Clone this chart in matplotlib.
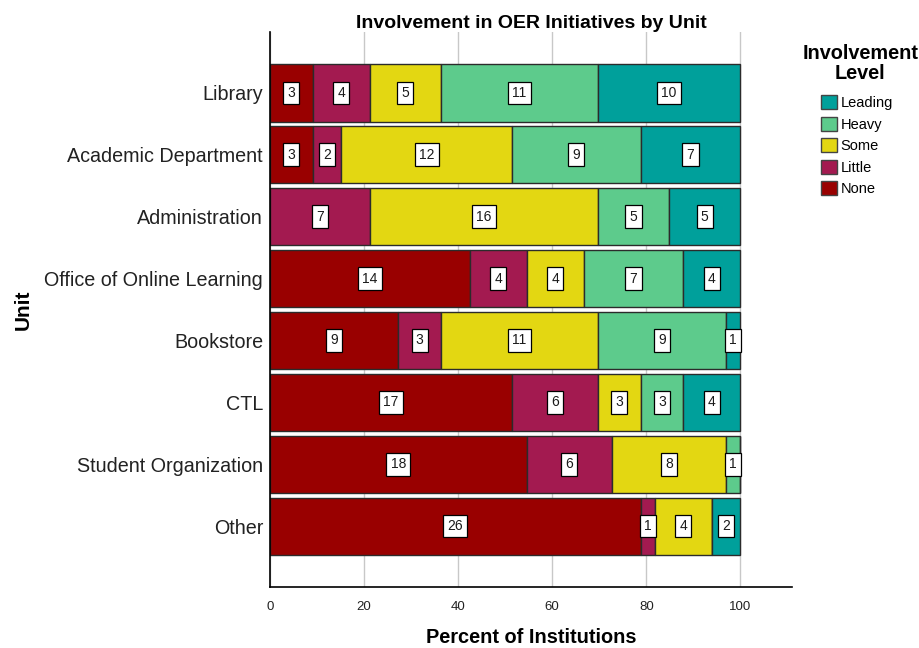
import numpy as np
import matplotlib
matplotlib.use('Agg')
import matplotlib.pyplot as plt
from matplotlib.patches import Patch

plt.rcParams['font.family']=['Liberation Sans','DejaVu Sans']

units=['Library','Academic Department','Administration','Office of Online Learning','Bookstore','CTL','Student Organization','Other']
levels=['None','Little','Some','Heavy','Leading']
none_=[3,3,0,14,9,17,18,26]
little=[4,2,7,4,3,6,6,1]
some=[5,12,16,4,11,3,8,4]
heavy=[11,9,5,7,9,3,1,0]
leading=[10,7,5,4,1,4,0,2]
colors=['#990000','#A31A50','#E3D712','#5DCB8C','#00A09B']

counts=np.array([none_,little,some,heavy,leading],dtype=float)
pct=counts/counts.sum(axis=0)*100

fig=plt.figure(figsize=(9.2,6.48),dpi=100)
ax=fig.add_axes([0.2935,0.0941,0.5675,0.8565])
y=np.arange(len(units))
left=np.zeros(len(units))
for i,lev in enumerate(levels):
	ax.barh(y,pct[i],left=left,height=0.93,color=colors[i],edgecolor='#2b2b2b',linewidth=1,zorder=2)
	for j in range(len(units)):
		if counts[i,j]>0:
			ax.text(left[j]+pct[i,j]/2,y[j],str(int(counts[i,j])),ha='center',va='center',fontsize=10,color='#1a1a1a',zorder=4,
				bbox=dict(boxstyle='square,pad=0.3',facecolor='white',edgecolor='black',linewidth=0.9))
	left+=pct[i]

ax.set_xlim(0,111)
ax.set_ylim(len(units)-1+0.98,-0.98)
ax.set_yticks(y)
ax.set_yticklabels(units,fontsize=14.2,color='#222222')
ax.set_xticks([0,20,40,60,80,100])
ax.tick_params(axis='x',labelsize=9.5,length=0,pad=10,colors='#222222')
ax.tick_params(axis='y',length=0,pad=5)
ax.grid(axis='x',color='#c8c8c8',linewidth=1,zorder=0)
ax.set_axisbelow(True)
for s in ['top','right']:
	ax.spines[s].set_visible(False)
ax.spines['left'].set_linewidth(1.2)
ax.spines['bottom'].set_linewidth(1.2)
ax.set_xlabel('Percent of Institutions',fontsize=14.4,fontweight='bold',labelpad=11)
ax.set_ylabel('Unit',fontsize=15,fontweight='bold',labelpad=8)
ax.set_title('Involvement in OER Initiatives by Unit',fontsize=14,fontweight='bold',pad=3)

fig.text(0.935,0.932,'Involvement\nLevel',ha='center',va='top',fontsize=14.3,fontweight='bold',multialignment='center',linespacing=1.05)
handles=[Patch(facecolor=colors[i],edgecolor='#444444',label=levels[i]) for i in range(4,-1,-1)]
leg=fig.legend(handles=handles,loc='upper left',bbox_to_anchor=(0.892,0.853),borderaxespad=0,borderpad=0,
	frameon=False,fontsize=10.5,handlelength=1.1,handleheight=1.1,handletextpad=0.25,labelspacing=0.45)

fig.savefig('out.png',dpi=100)
